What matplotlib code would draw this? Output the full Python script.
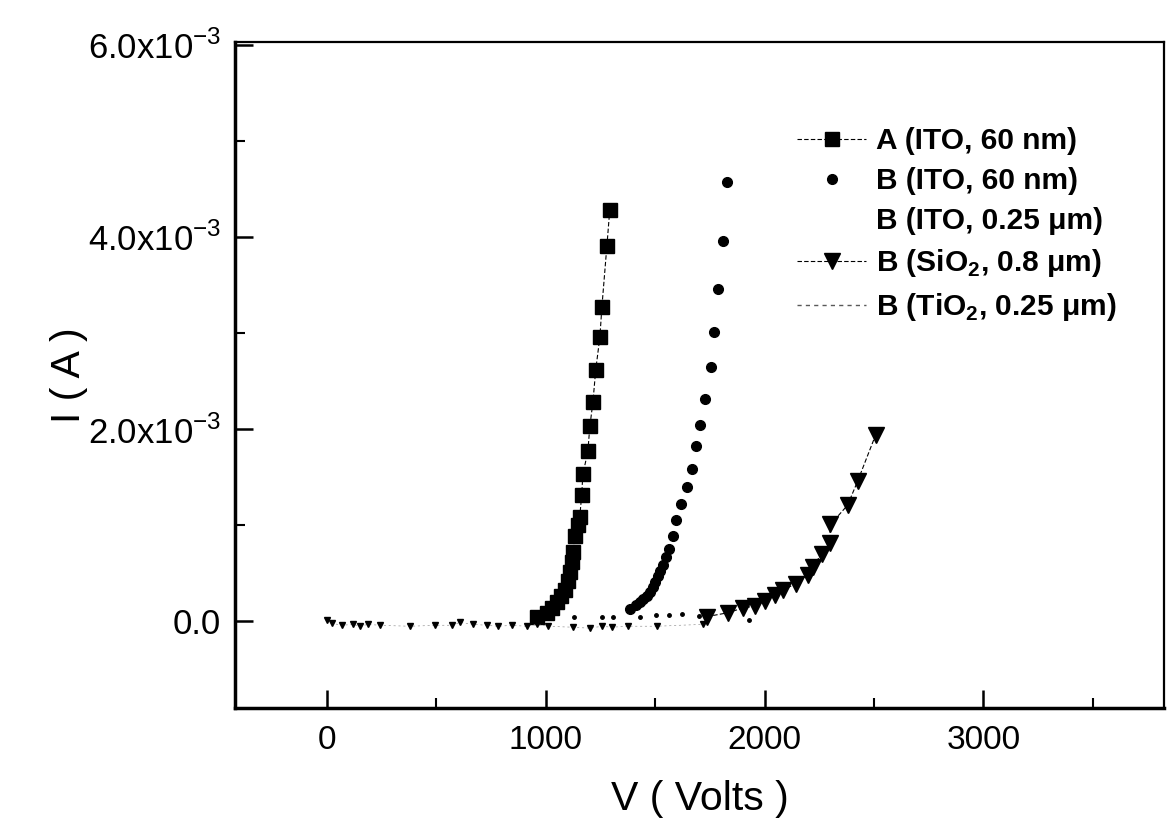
import matplotlib
matplotlib.use('Agg')
import matplotlib.pyplot as plt
from matplotlib.lines import Line2D
from matplotlib.ticker import MultipleLocator, FixedLocator

plt.rcParams['font.family'] = ['Liberation Sans', 'DejaVu Sans']
plt.rcParams['mathtext.fontset'] = 'custom'
plt.rcParams['mathtext.rm'] = 'Liberation Sans'
plt.rcParams['mathtext.bf'] = 'Liberation Sans:bold'

# A (ITO, 60 nm)
v_a = [960, 1005, 1030, 1050, 1070, 1087, 1100, 1110, 1118, 1123, 1132, 1145, 1155, 1164,
       1169, 1192, 1201, 1215, 1228, 1247, 1256, 1279, 1292]
i_a = [0.05, 0.09, 0.14, 0.20, 0.26, 0.33, 0.42, 0.51, 0.62, 0.72, 0.89, 1.00, 1.09, 1.32,
       1.53, 1.77, 2.03, 2.28, 2.62, 2.96, 3.27, 3.91, 4.28]

# B (ITO, 60 nm)
v_b1 = [1384, 1410, 1429, 1445, 1461, 1475, 1489, 1500, 1511, 1522, 1534, 1548, 1562, 1580,
        1594, 1616, 1644, 1667, 1685, 1703, 1726, 1753, 1767, 1785, 1808, 1826]
i_b1 = [0.13, 0.17, 0.20, 0.23, 0.26, 0.31, 0.36, 0.41, 0.47, 0.53, 0.59, 0.67, 0.75, 0.89,
        1.06, 1.22, 1.40, 1.59, 1.83, 2.04, 2.32, 2.65, 3.01, 3.46, 3.96, 4.57]

# B (ITO, 0.25 um)
v_b2 = [1130, 1255, 1305, 1430, 1505, 1565, 1620, 1700, 1930]
i_b2 = [0.05, 0.05, 0.05, 0.05, 0.07, 0.07, 0.08, 0.06, 0.01]

# B (SiO2, 0.8 um)
v_b3 = [1735, 1831, 1900, 1954, 2000, 2046, 2082, 2142, 2196, 2219, 2260, 2297, 2301,
        2379, 2425, 2507]
i_b3 = [0.05, 0.09, 0.14, 0.16, 0.21, 0.28, 0.33, 0.39, 0.48, 0.57, 0.70, 0.82, 1.01,
        1.21, 1.46, 1.94]

# B (TiO2, 0.25 um)
v_b4 = [0, 23, 68, 119, 151, 187, 242, 379, 493, 571, 607, 667, 731, 781, 845, 913, 959,
        1009, 1123, 1201, 1256, 1301, 1374, 1507, 1717]
i_b4 = [0.01, -0.02, -0.04, -0.03, -0.05, -0.03, -0.04, -0.05, -0.04, -0.04, -0.01, -0.03,
        -0.04, -0.05, -0.04, -0.05, -0.03, -0.05, -0.06, -0.07, -0.05, -0.06, -0.05, -0.05, -0.03]

labels = ['A (ITO, 60 nm)', 'B (ITO, 60 nm)', 'B (ITO, 0.25 \u03bcm)',
          r'B (SiO$_{\mathbf{2}}$, 0.8 $\mathbf{\mu}$m)',
          r'B (TiO$_{\mathbf{2}}$, 0.25 $\mathbf{\mu}$m)']

scale = 1e-3

fig = plt.figure(figsize=(11.7, 8.27), dpi=100)
ax = fig.add_axes([0.201, 0.144, 0.794, 0.805])

h_a, = ax.plot(v_a, [v * scale for v in i_a], color='black', marker='s', ms=10, lw=0.8,
               ls=(0, (4, 2)))
h_b1, = ax.plot(v_b1, [v * scale for v in i_b1], color='black', marker='o', ms=7, ls='none')
ax.plot(v_b2, [v * scale for v in i_b2], color='black', marker='.', ms=5, ls='none')
h_b3, = ax.plot(v_b3, [v * scale for v in i_b3], color='black', marker='v', ms=11, lw=0.8,
                ls=(0, (4, 2)))
ax.plot(v_b4, [v * scale for v in i_b4], color='0.6', marker='v', ms=4, mec='black',
        mfc='black', lw=0.5, ls=(0, (3, 4)))

# the reference legend shows no visible symbol for the two low-current series
h_b2 = Line2D([], [], ls='none', marker='none')
h_b4 = Line2D([], [], color='0.35', lw=1.0, ls=(0, (3, 3)))

ax.set_xlim(-420, 3826)
ax.set_ylim(-0.9e-3, 6.03e-3)

ax.xaxis.set_major_locator(FixedLocator([0, 1000, 2000, 3000]))
ax.xaxis.set_minor_locator(MultipleLocator(500))
ax.yaxis.set_major_locator(FixedLocator([0, 2e-3, 4e-3, 6e-3]))
ax.yaxis.set_minor_locator(MultipleLocator(1e-3))
ax.set_yticklabels(['0.0', r'2.0x10$^{\mathregular{-3}}$', r'4.0x10$^{\mathregular{-3}}$',
                    r'6.0x10$^{\mathregular{-3}}$'])

ax.tick_params(which='both', direction='in', top=False, right=False)
ax.tick_params(axis='x', labelsize=24, pad=12)
ax.tick_params(axis='y', labelsize=25, pad=10)
ax.tick_params(which='major', length=13, width=1.8)
ax.tick_params(which='minor', length=7, width=1.5)

for side in ['left', 'bottom']:
    ax.spines[side].set_linewidth(2.5)
for side in ['top', 'right']:
    ax.spines[side].set_linewidth(1.6)

ax.set_xlabel('V ( Volts )', fontsize=29.5)
ax.set_ylabel('I ( A )', fontsize=29.5)
ax.xaxis.set_label_coords(0.5, -0.108)
ax.yaxis.set_label_coords(-0.158, 0.5)

leg = ax.legend([h_a, h_b1, h_b2, h_b3, h_b4], labels,
                loc='upper left', bbox_to_anchor=(0.605, 0.872), frameon=False,
                prop={'weight': 'bold', 'size': 21.5}, handlelength=2.3, handletextpad=0.35,
                labelspacing=0.4, borderpad=0, borderaxespad=0)

fig.savefig('out.png', dpi=100)
